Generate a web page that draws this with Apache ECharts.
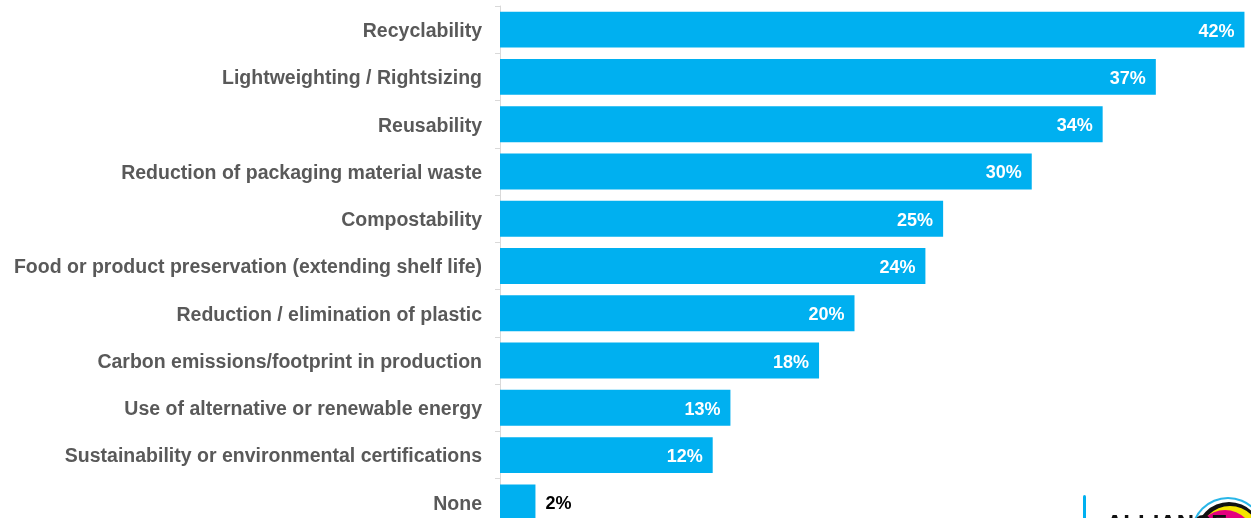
<!DOCTYPE html>
<html>
<head>
<meta charset="utf-8">
<style>
  html, body { margin: 0; padding: 0; background: #ffffff; }
  #chart { width: 1251px; height: 518px; }
</style>
<script src="https://cdn.jsdelivr.net/npm/echarts@6/dist/echarts.min.js"></script>
</head>
<body>
<div id="chart"></div>
<script>
// Sustainability attributes, top to bottom
const categories = [
  'Recyclability',
  'Lightweighting / Rightsizing',
  'Reusability',
  'Reduction of packaging material waste',
  'Compostability',
  'Food or product preservation (extending shelf life)',
  'Reduction / elimination of plastic',
  'Carbon emissions/footprint in production',
  'Use of alternative or renewable energy',
  'Sustainability or environmental certifications',
  'None'
];

// Share of respondents, percent
const shares = [42, 37, 34, 30, 25, 24, 20, 18, 13, 12, 2];

const BAR_BLUE = '#00b0f0';
const LABEL_GREY = '#595959';
const FONT = '"Liberation Sans", Arial, sans-serif';

const chart = echarts.init(document.getElementById('chart'), null, { renderer: 'canvas' });

const seriesData = shares.map(function (v) {
  const small = v < 5;
  return {
    value: v,
    label: small
      ? { position: 'right', distance: 10, color: '#000000' }
      : { position: 'insideRight', distance: 10, color: '#ffffff' }
  };
});

chart.setOption({
  animation: false,
  backgroundColor: '#ffffff',
  // the last row runs past the bottom edge of the canvas
  grid: {
    left: 500, top: 6, width: 748, height: 520,
    containLabel: false,
    outerBoundsMode: 'none'
  },
  xAxis: {
    type: 'value',
    min: 0,
    max: 42.2,
    show: false,
    splitLine: { show: false }
  },
  yAxis: {
    type: 'category',
    inverse: true,
    data: categories,
    axisLine: { show: true, lineStyle: { color: '#d9d9d9', width: 1 } },
    axisTick: { show: true, length: 5, lineStyle: { color: '#d9d9d9' } },
    axisLabel: {
      margin: 18,
      formatter: '{cat|{value}}',
      rich: {
        cat: {
          color: LABEL_GREY,
          fontFamily: FONT,
          fontWeight: 'bold',
          fontSize: 19.5,
          padding: [4, 0, 0, 0]
        }
      }
    }
  },
  series: [{
    type: 'bar',
    data: seriesData,
    barCategoryGap: '24%',
    itemStyle: { color: BAR_BLUE },
    label: {
      show: true,
      formatter: '{c}%',
      fontFamily: FONT,
      fontWeight: 'bold',
      fontSize: 18,
      offset: [0, 2]
    }
  }],
  graphic: [
    // brand mark in the lower right corner
    { type: 'rect', shape: { x: 1083, y: 495, width: 3, height: 30, r: 1.5 }, style: { fill: BAR_BLUE } },
    { type: 'circle', shape: { cx: 1228, cy: 534, r: 37 }, style: { fill: '#29b6e8' } },
    { type: 'circle', shape: { cx: 1228, cy: 534, r: 35 }, style: { fill: '#ffffff' } },
    { type: 'circle', shape: { cx: 1229, cy: 535, r: 33 }, style: { fill: '#111111' } },
    { type: 'circle', shape: { cx: 1230, cy: 536, r: 30 }, style: { fill: '#f5e400' } },
    { type: 'circle', shape: { cx: 1225, cy: 539, r: 29 }, style: { fill: '#e4007f' } },
    { type: 'circle', shape: { cx: 1231, cy: 546, r: 19 }, style: { fill: '#ffffff' } },
    {
      type: 'text',
      left: 1106,
      top: 513,
      style: {
        text: 'ALLIANCE',
        fill: '#111111',
        font: 'bold 24px "Liberation Sans", Arial, sans-serif'
      }
    }
  ]
});
</script>
</body>
</html>
